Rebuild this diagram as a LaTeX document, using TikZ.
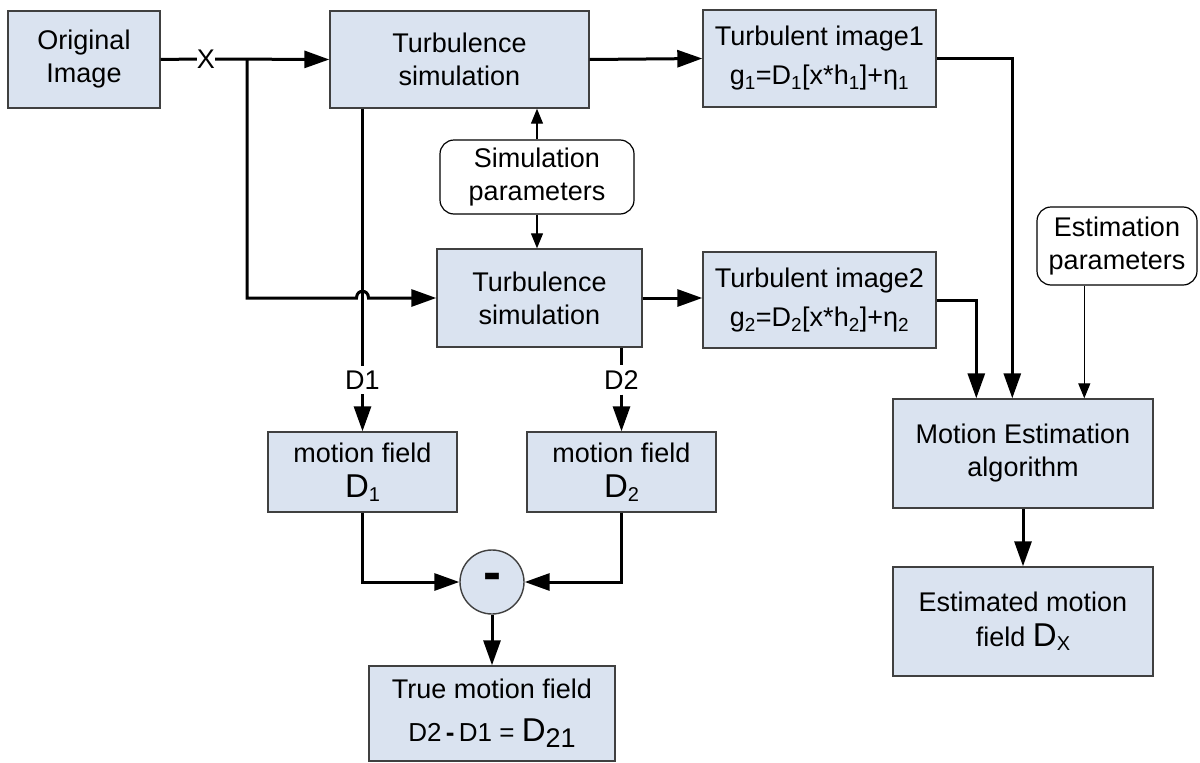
\documentclass[tikz,border=0pt]{standalone}
\usepackage{fontspec}
\setmainfont{Liberation Sans}
\usetikzlibrary{arrows.meta,calc}
\definecolor{boxfill}{HTML}{DAE3F0}
\definecolor{boxline}{HTML}{404040}
\newcommand{\bigD}{{\fontsize{33}{33}\selectfont D}}
\newcommand{\lowsub}[2][4pt]{\raisebox{-#1}{\fontsize{20}{20}\selectfont #2}}
\begin{document}
\begin{tikzpicture}[x=1pt,y=-1pt,
  every node/.style={font=\fontsize{27}{33}\selectfont, align=center},
  box/.style={draw=boxline, fill=boxfill, line width=1.4pt, inner sep=0pt},
  parbox/.style={draw=black, fill=white, line width=1.2pt, rounded corners=14pt, inner sep=0pt},
  flow/.style={line width=3pt, -{Triangle[length=25pt,width=17pt]}},
  flowline/.style={line width=3pt},
  flowthin/.style={line width=1.3pt, -{Triangle[length=15pt,width=12pt]}},
  thinline/.style={line width=1.3pt},
  lab/.style={inner sep=0pt}
]
\useasboundingbox (0,0) rectangle (1200,763);

% boxes
\node[box, minimum width=152pt, minimum height=97pt] (orig) at (84,59.5) {Original\\Image};
\node[box, minimum width=259pt, minimum height=97pt] (turb1) at (459.5,59.5) {Turbulence\\simulation};
\node[box, minimum width=233pt, minimum height=97pt] (img1) at (819.5,58.5)
  {Turbulent image1\\[6pt] g\textsubscript{1}=D\textsubscript{1}[x*h\textsubscript{1}]+η\textsubscript{1}};
\node[parbox, minimum width=194pt, minimum height=74pt] (sp) at (537,177) {Simulation\\parameters};
\node[box, minimum width=205pt, minimum height=98pt] (turb2) at (539.5,298) {Turbulence\\simulation};
\node[box, minimum width=233pt, minimum height=96pt] (img2) at (819.5,300)
  {Turbulent image2\\[6pt] g\textsubscript{2}=D\textsubscript{2}[x*h\textsubscript{2}]+η\textsubscript{2}};
\node[parbox, minimum width=160pt, minimum height=78pt] (ep) at (1117,246) {Estimation\\parameters};
\node[box, minimum width=189pt, minimum height=80pt] (mf1) at (362.5,472) {motion field\\[2pt] \bigD\lowsub{1}};
\node[box, minimum width=189pt, minimum height=80pt] (mf2) at (621.5,472) {motion field\\[2pt] \bigD\lowsub{2}};
\node[circle, draw=boxline, fill=boxfill, line width=1.4pt, minimum size=64pt, inner sep=0pt] (minus) at (492,582)
  {\bfseries\fontsize{54}{54}\selectfont -};
\node[box, minimum width=246pt, minimum height=95pt] (true) at (492,713.5)
  {True motion field\\[10pt] {\fontsize{26}{26}\selectfont D2\,\textbf{-}\,D1 = }\bigD\lowsub[6pt]{\fontsize{27}{27}\selectfont 21}};
\node[box, minimum width=260pt, minimum height=109pt] (mest) at (1023,453.5) {Motion Estimation\\algorithm};
\node[box, minimum width=260pt, minimum height=109pt] (estm) at (1023,621.5)
  {Estimated motion\\[2pt] field \bigD\lowsub{X}};

% labels
\node[lab] (xlab) at (206,59) {X};
\node[lab, inner sep=5pt] (d1) at (362.5,380) {D1};
\node[lab, inner sep=5pt] (d2) at (621.5,380) {D2};

% coordinates
\coordinate (br) at (247,59);
\coordinate (brlow) at (247,298);
\coordinate (hopL) at (356.5,298);
\coordinate (hopR) at (368.5,298);
\coordinate (hc1) at (356.5,289);
\coordinate (hc2) at (368.5,289);
\coordinate (me1) at ($(mest.north west)+(120,0)$);
\coordinate (me2) at ($(mest.north west)+(84,0)$);
\coordinate (me3) at ($(mest.north west)+(192,0)$);

% connectors
\draw[flowline] (orig.east) -- (xlab.west);
\draw[flow] (xlab.east) -- (turb1.west);
\draw[flow] (br) -- (brlow) -- (hopL) .. controls (hc1) and (hc2) .. (hopR) -- (turb2.west);
\draw[flow] (turb1.east) -- (img1.west);
\draw[flow] (turb2.east) -- (img2.west |- turb2.east);
\draw[flow] (img1.east) -| (me1);
\draw[flow] (img2.east) -| (me2);
\draw[flowthin] (me3 |- ep.south) -- (me3);
\draw[flowthin] (sp.north) -- (sp.north |- turb1.south);
\draw[flowthin] (sp.south) -- (sp.south |- turb2.north);
\draw[flowline] (d1 |- turb1.south) -- (d1.north);
\draw[flow] (d1.south) -- (mf1.north);
\draw[flowline] (d2 |- turb2.south) -- (d2.north);
\draw[flow] (d2.south) -- (mf2.north);
\draw[flow] (mf1.south) |- (minus.west);
\draw[flow] (mf2.south) |- (minus.east);
\draw[flow] (minus.south) -- (true.north);
\draw[flow] (mest.south) -- (estm.north);
\end{tikzpicture}
\end{document}
